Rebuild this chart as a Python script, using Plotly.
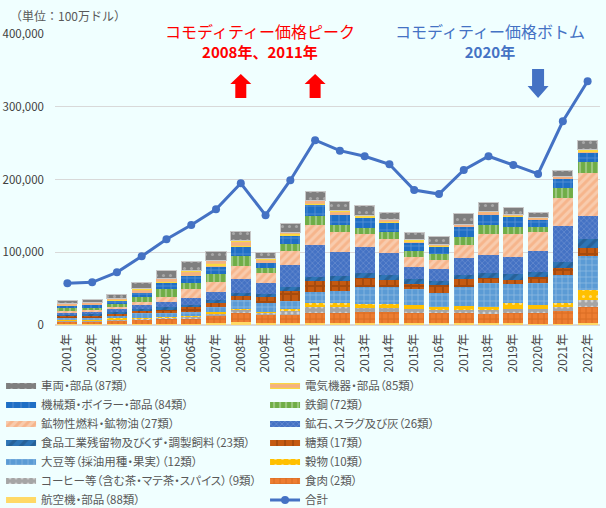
import plotly.graph_objects as go

years = [f"{y}年" for y in range(2001, 2023)]

# stacked categories (values in million USD / 1000), bottom -> top
aircraft = [1.4, 1.2, 0.9, 1.4, 1.4, 1.4, 3.2, 4.6, 3.2, 3.2, 3.2, 3.2, 3.2, 3.2, 3.2, 3.2, 3.2, 2.3, 2.3, 1.0, 1.0, 2.3]
meat = [3.2, 3.2, 5.0, 5.5, 6.9, 6.9, 9.2, 12.4, 10.5, 10.5, 13.7, 13.7, 15.1, 15.1, 12.8, 12.8, 12.8, 12.8, 13.7, 16.0, 18.3, 22.9]
coffee = [1.8, 1.8, 2.3, 1.4, 2.3, 3.2, 3.7, 3.7, 3.2, 6.0, 8.2, 7.3, 4.6, 4.6, 5.5, 4.6, 4.6, 5.5, 6.0, 5.0, 6.0, 9.2]
grain = [0.5, 0.5, 0.9, 1.8, 1.0, 1.4, 2.3, 1.4, 1.4, 1.8, 4.6, 6.4, 6.0, 6.0, 6.0, 4.6, 6.0, 4.6, 7.8, 5.5, 4.6, 13.7]
soybean = [3.2, 3.5, 4.6, 6.0, 5.5, 5.5, 6.9, 12.4, 11.5, 11.9, 16.0, 16.0, 23.8, 23.8, 21.5, 19.2, 26.1, 33.0, 26.6, 30.7, 39.0, 46.7]
sugar = [2.3, 2.5, 2.3, 3.7, 4.6, 6.9, 5.5, 5.5, 9.2, 13.3, 15.1, 14.2, 12.4, 9.6, 7.8, 10.5, 10.5, 6.0, 6.0, 7.8, 10.0, 11.5]
food_residue = [1.8, 2.0, 2.3, 2.3, 2.7, 2.3, 3.7, 3.7, 3.7, 5.0, 5.5, 6.9, 6.0, 6.4, 6.4, 6.0, 5.5, 6.9, 7.3, 6.4, 7.3, 11.9]
ores = [3.2, 3.2, 3.7, 5.5, 7.8, 10.0, 11.5, 19.7, 15.6, 30.7, 43.5, 33.0, 36.6, 29.8, 17.0, 16.5, 23.8, 25.2, 23.8, 29.8, 50.0, 31.6]
fuels = [2.7, 3.0, 3.2, 4.6, 6.9, 11.5, 13.7, 18.3, 13.7, 19.7, 28.0, 27.5, 17.9, 20.1, 13.7, 11.5, 17.4, 29.3, 32.0, 25.2, 39.0, 58.6]
steel = [2.7, 2.7, 3.2, 6.9, 10.5, 8.2, 10.0, 13.7, 6.9, 9.2, 12.4, 9.2, 8.2, 9.6, 7.8, 8.2, 11.5, 11.9, 9.2, 7.3, 13.7, 16.0]
machinery = [3.2, 3.4, 5.0, 5.5, 8.7, 10.0, 10.5, 11.5, 6.0, 11.0, 14.2, 13.7, 12.8, 12.4, 11.5, 10.5, 12.8, 13.7, 13.3, 9.6, 11.9, 12.4]
electrical = [3.7, 4.0, 3.2, 6.0, 6.0, 8.2, 8.2, 8.7, 6.9, 5.0, 6.4, 6.0, 4.6, 4.6, 4.6, 3.2, 4.1, 5.0, 3.7, 3.7, 3.2, 4.6]
vehicles = [3.7, 4.0, 6.0, 8.2, 11.0, 11.9, 13.3, 13.3, 8.2, 12.4, 12.8, 13.3, 13.3, 10.0, 9.6, 11.0, 15.1, 12.8, 10.5, 7.3, 8.7, 12.4]

total = [57.3, 58.7, 72.4, 94.4, 117.8, 137.5, 159.0, 194.8, 151.0, 199.0, 254.0, 239.6, 232.0, 221.0, 185.6, 180.0, 213.0, 232.0, 220.0, 207.6, 280.0, 335.0]

names = {
    "vehicles": "車両・部品（87類）",
    "electrical": "電気機器・部品（85類）",
    "machinery": "機械類・ボイラー・部品（84類）",
    "steel": "鉄鋼（72類）",
    "fuels": "鉱物性燃料・鉱物油（27類）",
    "ores": "鉱石、スラグ及び灰（26類）",
    "food_residue": "食品工業残留物及びくず・調製飼料（23類）",
    "sugar": "糖類（17類）",
    "soybean": "大豆等（採油用種・果実）（12類）",
    "grain": "穀物（10類）",
    "coffee": "コーヒー等（含む茶・マテ茶・スパイス）（9類）",
    "meat": "食肉（2類）",
    "aircraft": "航空機・部品（88類）",
    "total": "合計",
}

FONT = "Noto Sans CJK JP"
scale = 1000  # million USD


def prop(text):
    # proportional punctuation widths (like the original's font)
    return "<span style='font-feature-settings:\"palt\"'>" + text + "</span>"


# (key, values, bg, fg, shape, size, solidity, legendrank)
series = [
    ("aircraft", aircraft, "#ffd966", "#ffd966", "", 8, 0.3, 13),
    ("meat", meat, "#ed7d31", "#c55a11", "+", 6, 0.3, 12),
    ("coffee", coffee, "#a5a5a5", "#ffffff", ".", 6, 0.2, 11),
    ("grain", grain, "#ffc000", "#ffffff", ".", 7, 0.15, 10),
    ("soybean", soybean, "#5b9bd5", "#c9def2", "+", 6, 0.22, 9),
    ("sugar", sugar, "#c55a11", "#8a3c0a", "+", 8, 0.45, 8),
    ("food_residue", food_residue, "#2e75b6", "#1f4e79", "/", 8, 0.4, 7),
    ("ores", ores, "#4472c4", "#8faadc", "x", 4, 0.3, 6),
    ("fuels", fuels, "#f8cbad", "#f4a06b", "/", 6, 0.5, 5),
    ("steel", steel, "#70ad47", "#c5e0b4", "|", 6, 0.35, 4),
    ("machinery", machinery, "#1f6fc5", "#8fb4e3", "+", 8, 0.2, 3),
    ("electrical", electrical, "#f4b183", "#ffff00", "-", 6, 0.4, 2),
    ("vehicles", vehicles, "#7f7f7f", "#d0d0d0", ".", 7, 0.15, 1),
]

fig = go.Figure()
for key, vals, bg, fg, shape, size, sol, rank in series:
    pattern = dict(shape=shape, bgcolor=bg, fgcolor=fg, size=size, solidity=sol) if shape else None
    line = dict(color="#c8c8c8", width=1) if key == "vehicles" else dict(width=0)
    fig.add_trace(go.Bar(
        x=years, y=[v * scale for v in vals], name=names[key],
        marker=dict(color=bg, pattern=pattern, line=line),
        showlegend=False, legendgroup=key,
    ))
    # legend glyph (wide strip like the original)
    fig.add_trace(go.Scatter(
        x=[years[0]], y=[None], name=prop(names[key]), mode="none", fill="toself",
        fillcolor=bg, fillpattern=pattern, legendgroup=key, legendrank=rank,
        showlegend=True, hoverinfo="skip",
    ))

fig.add_trace(go.Scatter(
    x=years, y=[v * scale for v in total], name=prop(names["total"]), mode="lines+markers",
    line=dict(color="#4472c4", width=3), marker=dict(size=8, color="#4472c4"),
    legendrank=14,
))

# arrows (block arrows anchored on categories)
up_arrow = "M -10.5,14 L 0,24 L 10.5,14 L 5.5,14 L 5.5,0 L -5.5,0 L -5.5,14 Z"
down_arrow = "M -10.5,12 L 0,0 L 10.5,12 L 6,12 L 6,29 L -6,29 L -6,12 Z"
shapes = []
for yr in ["2008年", "2011年"]:
    shapes.append(dict(type="path", xref="x", yref="y", xsizemode="pixel", ysizemode="pixel",
                       xanchor=yr, yanchor=312000, path=up_arrow,
                       fillcolor="#ff0000", line=dict(width=0)))
shapes.append(dict(type="path", xref="x", yref="y", xsizemode="pixel", ysizemode="pixel",
                   xanchor="2020年", yanchor=312000, path=down_arrow,
                   fillcolor="#4472c4", line=dict(width=0)))

annotations = [
    dict(text="（単位：100万ドル）", xref="paper", yref="paper", x=-0.086, y=1.063,
         xanchor="left", yanchor="middle", showarrow=False,
         font=dict(size=12, color="#595959", family=FONT)),
    dict(text="<span style='font-size:16px'>コモディティー価格ピーク</span><br>"
              "<span style='font-size:15px'><b>2008年、2011年</b></span>",
         xref="paper", yref="paper", x=0.377, y=0.979,
         xanchor="center", yanchor="middle", showarrow=False, align="center",
         font=dict(size=15, color="#ff0000", family=FONT)),
    dict(text="<span style='font-size:16px'>コモディティー価格ボトム</span><br>"
              "<span style='font-size:15px'><b>2020年</b></span>",
         xref="paper", yref="paper", x=0.799, y=0.979,
         xanchor="center", yanchor="middle", showarrow=False, align="center",
         font=dict(size=15, color="#4472c4", family=FONT)),
]

fig.update_layout(
    width=606, height=508,
    margin=dict(l=55, r=6, t=34, b=183, autoexpand=False),
    paper_bgcolor="#f0ffff", plot_bgcolor="#f0ffff",
    barmode="stack", bargap=0.19,
    font=dict(family=FONT, size=12, color="#404040"),
    shapes=shapes, annotations=annotations,
    legend=dict(orientation="h", x=-0.099, xanchor="left", y=-0.651, yanchor="bottom",
                entrywidth=219, entrywidthmode="pixels", traceorder="normal",
                font=dict(size=11.5, color="#595959", family=FONT),
                bgcolor="rgba(0,0,0,0)", itemwidth=30),
    showlegend=True,
)
fig.update_xaxes(tickangle=-90, showgrid=False, showline=True, linecolor="#d9d9d9",
                 tickfont=dict(size=12, color="#404040"), ticks="", automargin=False,
                 ticklabelstandoff=3,
                 categoryorder="array", categoryarray=years, range=[-0.5, len(years) - 0.5])
fig.update_yaxes(range=[0, 400000], dtick=100000, tickformat=",", gridcolor="#d9d9d9",
                 zeroline=True, zerolinecolor="#d9d9d9", ticks="", automargin=False,
                 tickfont=dict(size=11.5, color="#404040"), ticklabelstandoff=10)

fig.write_html(
    "out.html",
    config={"displayModeBar": False},
    post_script="document.body.style.margin='0';document.body.style.background='#f0ffff';",
)
